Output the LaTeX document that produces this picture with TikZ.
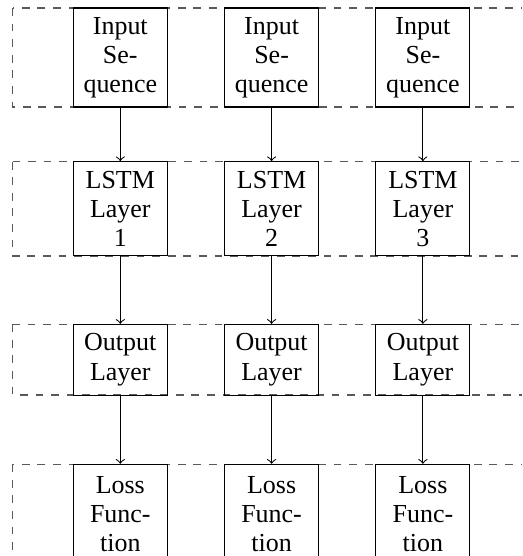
\documentclass[tikz,border=0pt]{standalone}
\usepackage{fontspec}
\setmainfont{Liberation Serif}
\begin{document}
\begin{tikzpicture}[x=0.385pt,y=-0.385pt,
  blk/.style={draw, line width=0.4pt, align=center, inner sep=0pt,
    minimum width=94*0.385pt, font=\fontsize{10}{11.2}\selectfont},
  grp/.style={draw, dashed, line width=0.4pt, gray!70!black},
  arr/.style={->, line width=0.4pt}]
\clip (0,0) rectangle (522,556);
\useasboundingbox (0,0) rectangle (522,556);
% dashed groups
\draw[grp] (12.7,8) rectangle (530,107);
\draw[grp] (12.7,161.7) rectangle (530,256);
\draw[grp] (12.7,324.3) rectangle (530,395);
\draw[grp] (12.7,464.3) rectangle (530,563.3);
\foreach \i/\x in {1/120.3,2/271.6,3/422.9}{
  \node[blk, minimum height=99*0.385pt] (in\i) at (\x,57.5) {Input\\Se-\\quence};
  \node[blk, minimum height=94.3*0.385pt] (ls\i) at (\x,208.8) {LSTM\\Layer\\\i};
  \node[blk, minimum height=70.7*0.385pt] (out\i) at (\x,359.7) {Output\\Layer};
  \node[blk, minimum height=99*0.385pt] (loss\i) at (\x,513.8) {Loss\\Func-\\tion};
  \draw[arr] (in\i) -- (ls\i);
  \draw[arr] (ls\i) -- (out\i);
  \draw[arr] (out\i) -- (loss\i);
}
\end{tikzpicture}
\end{document}
